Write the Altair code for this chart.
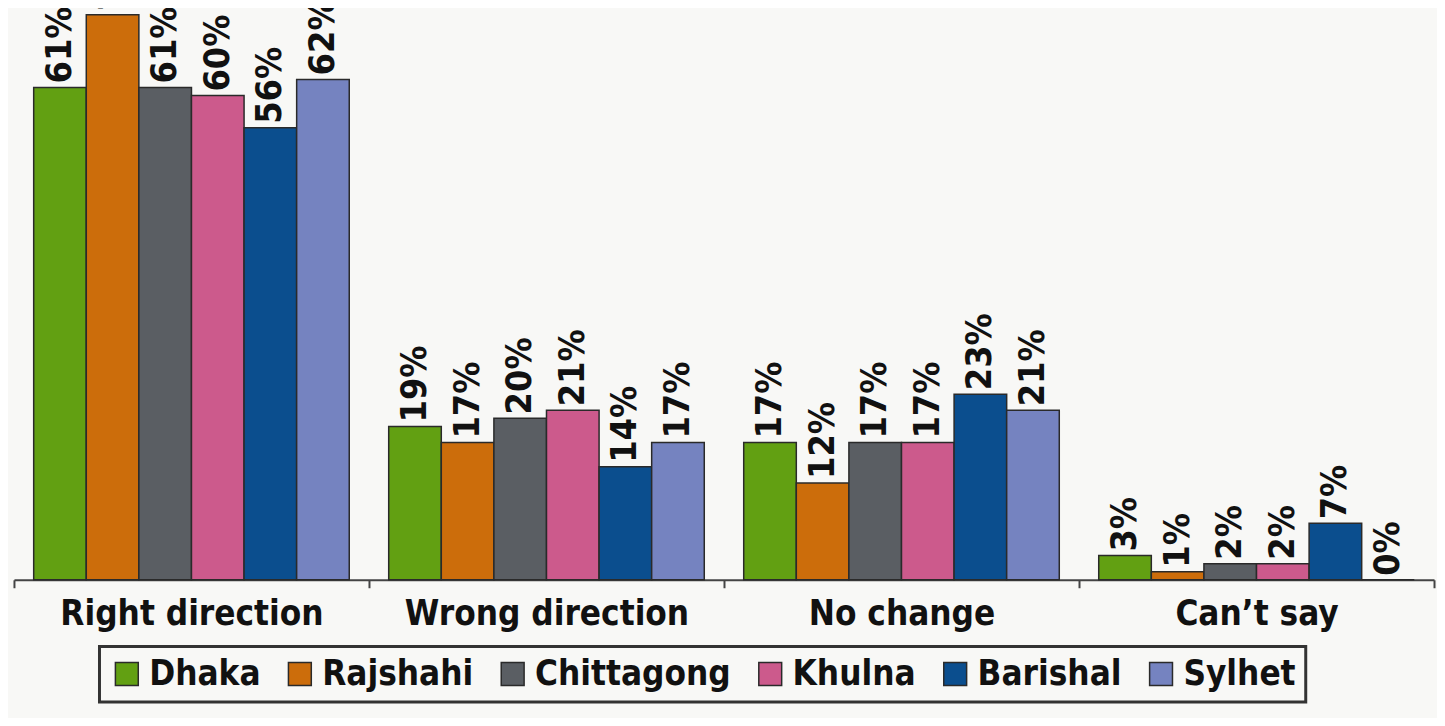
import altair as alt
import pandas as pd

categories = ["Right direction", "Wrong direction", "No change", "Can\u2019t say"]
regions = ["Dhaka", "Rajshahi", "Chittagong", "Khulna", "Barishal", "Sylhet"]
dhaka = [61, 19, 17, 3]
rajshahi = [70, 17, 12, 1]
chittagong = [61, 20, 17, 2]
khulna = [60, 21, 17, 2]
barishal = [56, 14, 23, 7]
sylhet = [62, 17, 21, 0]
colors = ["#62a012", "#cc6d0b", "#5a5e63", "#cc5a8c", "#0b4e8e", "#7583c0"]

series = [dhaka, rajshahi, chittagong, khulna, barishal, sylhet]
rows = []
for r, vals in zip(regions, series):
    for c, v in zip(categories, vals):
        rows.append({"category": c, "region": r, "value": v, "label": f"{v}%"})
df = pd.DataFrame(rows)

FONT = "Liberation Sans Narrow, DejaVu Sans Condensed, Arial Narrow, sans-serif"

base = alt.Chart(df).encode(
    x=alt.X(
        "category:N",
        sort=categories,
        scale=alt.Scale(paddingInner=0, paddingOuter=0),
        axis=alt.Axis(
            title=None,
            labelAngle=0,
            tickBand="extent",
            domainColor="#444444",
            domainWidth=2,
            tickColor="#444444",
            tickWidth=2,
            tickSize=8,
            labelFont=FONT,
            labelFontSize=35,
            labelFontWeight="bold",
            labelColor="#111111",
            labelPadding=9,
            labelLimit=400,
        ),
    ),
    xOffset=alt.XOffset(
        "region:N", sort=regions, scale=alt.Scale(paddingInner=0, paddingOuter=0.375)
    ),
    y=alt.Y("value:Q", scale=alt.Scale(domain=[0, 70.6], nice=False, zero=True), axis=None),
)

bars = base.mark_bar(stroke="#2a2a2a", strokeWidth=1.5).encode(
    color=alt.Color(
        "region:N",
        sort=regions,
        scale=alt.Scale(domain=regions, range=colors),
        legend=alt.Legend(
            orient="none",
            legendX=86,
            legendY=640,
            direction="horizontal",
            title=None,
            symbolType="square",
            symbolSize=529,
            symbolStrokeWidth=1.5,
            symbolStrokeColor="#2a2a2a",
            symbolOpacity=1,
            labelFont=FONT,
            labelFontSize=35,
            labelFontWeight="bold",
            labelColor="#111111",
            labelLimit=400,
            labelOffset=5,
            columnPadding=22,
            strokeColor="#333333",
            padding=10,
        ),
    )
)

labels = base.mark_text(
    angle=270,
    align="left",
    baseline="middle",
    dx=4,
    font=FONT,
    fontSize=36,
    fontWeight="bold",
    color="#111111",
).encode(text="label:N")

chart = (
    alt.layer(bars, labels)
    .properties(
        width=1428,
        height=573,
        autosize=alt.AutoSizeParams(type="none"),
        padding={"left": 6, "top": 0, "right": 3, "bottom": 137},
        background="#f8f8f6",
    )
    .configure_view(stroke=None)
    .configure_legend(strokeWidth=3)
)

chart.save("out.html", embed_options={"renderer": "svg", "actions": False})
